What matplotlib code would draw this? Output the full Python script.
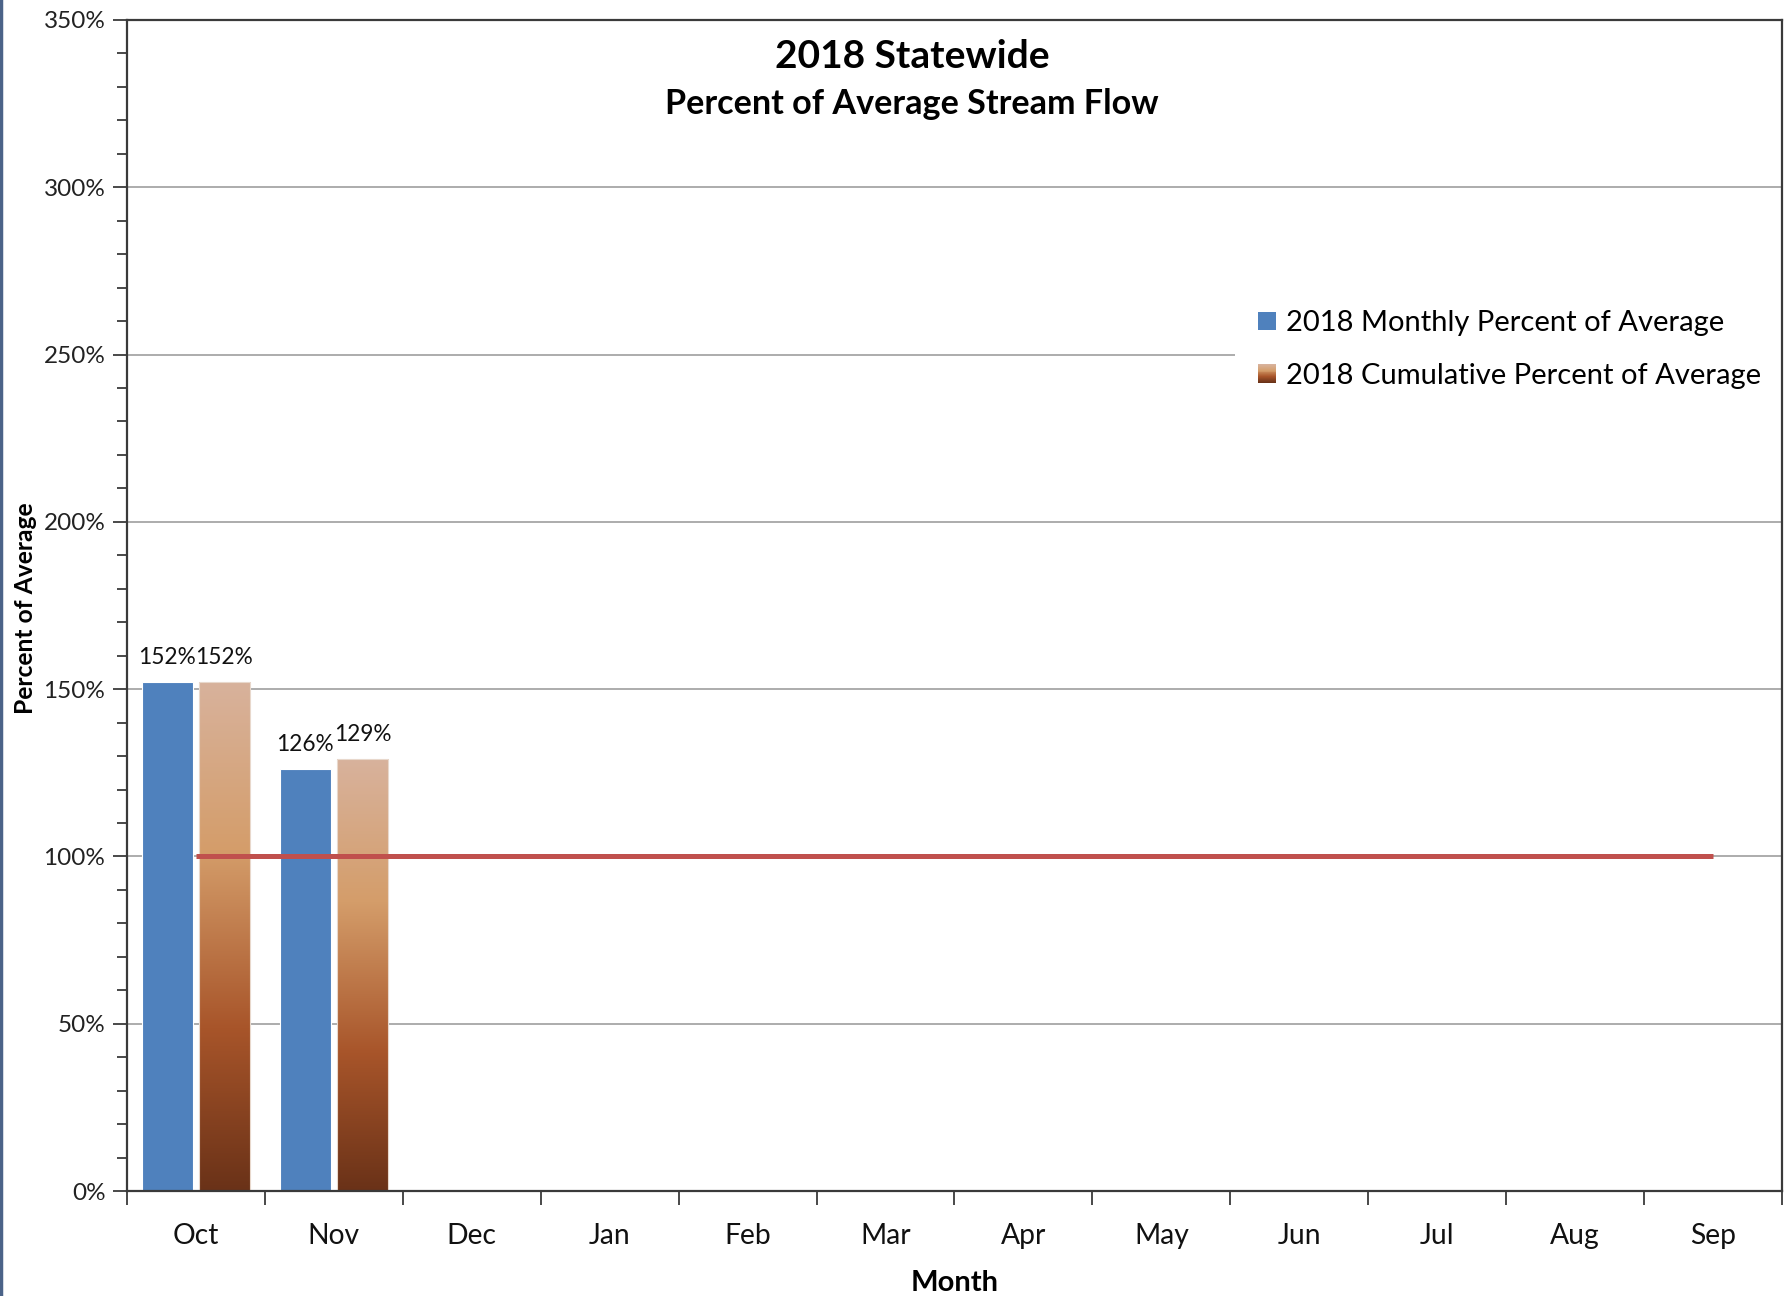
import numpy as np
import matplotlib
matplotlib.use("Agg")
import matplotlib.pyplot as plt
from matplotlib.colors import LinearSegmentedColormap
from matplotlib.patches import Rectangle
from matplotlib.legend_handler import HandlerBase
from matplotlib.lines import Line2D

# ---- data ----
months = ["Oct", "Nov", "Dec", "Jan", "Feb", "Mar", "Apr", "May", "Jun", "Jul", "Aug", "Sep"]
monthly_pct = [152, 126]
cumulative_pct = [152, 129]
average_pct = [100, 100, 100, 100, 100, 100, 100, 100, 100, 100, 100, 100]
y_ticks = [0, 50, 100, 150, 200, 250, 300, 350]

title = "2018 Statewide"
subtitle = "Percent of Average Stream Flow"
series_labels = ["2018 Monthly Percent of Average", "2018 Cumulative Percent of Average"]

# ---- style ----
plt.rcParams['font.family'] = ['Lato', 'DejaVu Sans']
BLUE = "#4F81BD"
RED = "#C0504D"
grad_cmap = LinearSegmentedColormap.from_list(
    "brown", [(0.0, "#D8B29C"), (0.33, "#D49D6A"), (0.68, "#A8552A"), (1.0, "#6A3218")])

fig = plt.figure(figsize=(17.85, 12.96), dpi=100)
ax = fig.add_axes([0.0711, 0.081, 0.9272, 0.9036])

x = np.arange(len(months))
bw = 0.373
off = 0.207

ax.set_xlim(-0.5, len(months) - 0.5)
ax.set_ylim(0, 350)

# gridlines
for yv in y_ticks[1:-1]:
    ax.axhline(yv, color="#A6A6A6", lw=1.3, zorder=0.5)

# white background area behind legend (hides gridline)
ax.add_patch(Rectangle((0.6695, 0.67), 0.3305, 0.12, transform=ax.transAxes,
                       facecolor="white", edgecolor="none", zorder=0.8))

# monthly bars
ax.bar(x[:len(monthly_pct)] - off, monthly_pct, width=bw, color=BLUE, zorder=2,
       edgecolor="white", linewidth=0.8)

# cumulative gradient bars
cum_bars = ax.bar(x[:len(cumulative_pct)] + off, cumulative_pct, width=bw,
                  facecolor="none", edgecolor="#E8D8CC", linewidth=0.8, zorder=2.5)
grad = grad_cmap(np.linspace(0, 1, 256))[:, None, :3]
for b in cum_bars:
    x0 = b.get_x()
    w = b.get_width()
    h = b.get_height()
    im = ax.imshow(grad, extent=[x0, x0 + w, 0, h], origin="upper", aspect="auto",
                   zorder=2, interpolation="bilinear")
    im.set_clip_path(b)

# average line (over bars)
ax.plot(x, average_pct, color=RED, lw=3.6, zorder=3, solid_capstyle="butt")

# data labels
for xi, v in zip(x[:len(monthly_pct)] - off, monthly_pct):
    ax.annotate(f"{v}%", (xi, v), xytext=(0, 25), textcoords="offset pixels",
                ha="center", va="center", fontsize=16.3, color="#111111", zorder=4)
for xi, v in zip(x[:len(cumulative_pct)] + off, cumulative_pct):
    ax.annotate(f"{v}%", (xi, v), xytext=(0, 25), textcoords="offset pixels",
                ha="center", va="center", fontsize=16.3, color="#111111", zorder=4)

ax.set_xlim(-0.5, len(months) - 0.5)
ax.set_ylim(0, 350)

# axes styling
for s in ax.spines.values():
    s.set_color("#3A3A3A")
    s.set_linewidth(1.6)

ax.set_yticks(y_ticks)
ax.set_yticklabels([f"{v}%" for v in y_ticks], fontsize=17.5, color="#222222")
ax.set_yticks(np.arange(0, 351, 10), minor=True)
ax.tick_params(axis="y", which="major", direction="out", length=10, width=1.3,
               color="#3A3A3A", pad=5.5)
ax.tick_params(axis="y", which="minor", direction="out", length=7, width=1.3,
               color="#3A3A3A")

ax.set_xticks(x)
ax.set_xticklabels(months, fontsize=20.3, color="#111111")
ax.set_xticks(np.arange(-0.5, len(months), 1.0), minor=True)
ax.tick_params(axis="x", which="major", length=0, pad=23)
ax.tick_params(axis="x", which="minor", direction="out", length=10, width=1.3,
               color="#3A3A3A")

ax.set_xlabel("Month", fontsize=21, fontweight="bold", labelpad=15)
fig.text(0.0141, 0.531, "Percent of Average", rotation=90, fontsize=17.7,
         fontweight="bold", ha="center", va="center")

# titles
fig.text(0.511, 0.9565, title, fontsize=28, fontweight="bold", ha="center", va="center")
fig.text(0.511, 0.920, subtitle, fontsize=24.6, fontweight="bold", ha="center", va="center")


# legend with gradient swatch
class GradientHandler(HandlerBase):
    def create_artists(self, legend, orig_handle, xdescent, ydescent, width, height,
                       fontsize, trans):
        n = 20
        arts = []
        for i in range(n):
            c = grad_cmap(i / (n - 1))
            r = Rectangle((-xdescent, -ydescent + height * (1 - (i + 1) / n)), width,
                          height / n, facecolor=c, edgecolor="none", transform=trans)
            arts.append(r)
        return arts


h1 = Rectangle((0, 0), 1, 1, facecolor=BLUE, edgecolor="none")
h2 = Rectangle((0, 0), 1, 1, facecolor="none", edgecolor="none")
leg = fig.legend([h1, h2], series_labels, loc="upper left",
                 bbox_to_anchor=(0.695, 0.774), fontsize=21, frameon=False,
                 handlelength=0.6, handleheight=0.6, handletextpad=0.35,
                 labelspacing=0.9, borderpad=0.6, borderaxespad=0,
                 handler_map={h2: GradientHandler()})

# left window border
fig.add_artist(Line2D([0.0008, 0.0008], [0, 1], color="#4B6388", lw=2.5))

fig.savefig("out.png", dpi=100)
